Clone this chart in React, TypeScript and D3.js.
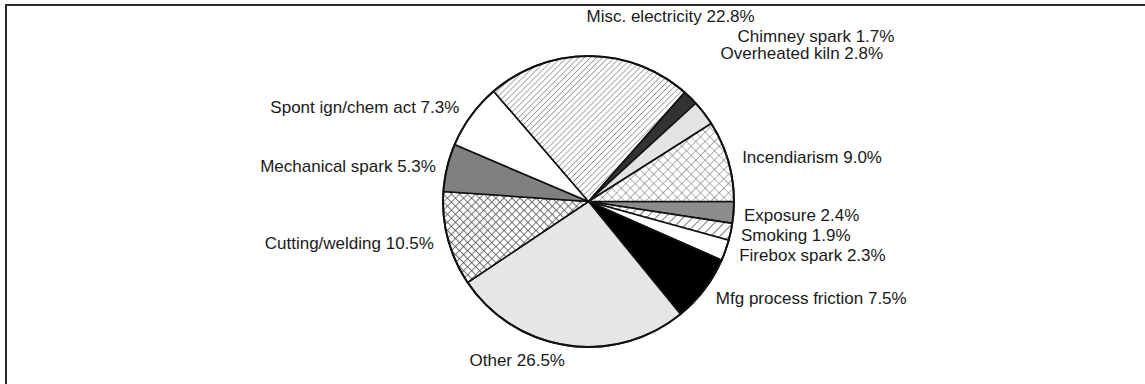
import React from "react";
import * as d3 from "d3";

// causes, clockwise from 3 o'clock
const causes = [
  "Exposure",
  "Smoking",
  "Firebox spark",
  "Mfg process friction",
  "Other",
  "Cutting/welding",
  "Mechanical spark",
  "Spont ign/chem act",
  "Misc. electricity",
  "Chimney spark",
  "Overheated kiln",
  "Incendiarism",
];
const shares = [2.4, 1.9, 2.3, 7.5, 26.5, 10.5, 5.3, 7.3, 22.8, 1.7, 2.8, 9.0];
const fills = [
  "#8c8c8c",
  "url(#hatchWide)",
  "#ffffff",
  "#000000",
  "#e6e6e6",
  "url(#crossBold)",
  "#808080",
  "#ffffff",
  "url(#hatchFine)",
  "#333333",
  "#e3e3e3",
  "url(#crossThin)",
];

// hand moved labels (as in the original chart)
const labelNudge: Record<string, [number, number]> = {
  "Misc. electricity": [-3, -25],
  "Chimney spark": [37, -51],
  "Overheated kiln": [5, -51],
  "Mechanical spark": [3, 2],
  "Exposure": [-4, 1],
  "Smoking": [-4, 0],
};

const W = 1145;
const H = 384;
const cx = 588.5;
const cy = 201.5;
const R = 145.5;
const LR = 160;

const App = () => {
  const data = causes.map((name, i) => ({ name, value: shares[i], fill: fills[i] }));
  const pie = d3
    .pie<any>()
    .value((d) => d.value)
    .sort(null)
    .startAngle(Math.PI / 2)
    .endAngle(Math.PI / 2 + 2 * Math.PI);
  const arc = d3.arc<any>().innerRadius(0).outerRadius(R);
  const arcs = pie(data);

  return (
    <svg width={W} height={H} style={{ position: "absolute", left: 0, top: 0, background: "#fff" }}>
      <defs>
        <pattern id="hatchFine" width="4.2" height="4.2" patternUnits="userSpaceOnUse" patternTransform="rotate(45)">
          <rect width="4.2" height="4.2" fill="#fff" />
          <line x1="0" y1="0" x2="0" y2="4.2" stroke="#555" strokeWidth="1" />
        </pattern>
        <pattern id="hatchWide" width="6.5" height="6.5" patternUnits="userSpaceOnUse" patternTransform="rotate(45)">
          <rect width="6.5" height="6.5" fill="#fff" />
          <line x1="0" y1="0" x2="0" y2="6.5" stroke="#333" strokeWidth="1.3" />
        </pattern>
        <pattern id="crossBold" width="5.7" height="5.7" patternUnits="userSpaceOnUse" patternTransform="rotate(45)">
          <rect width="5.7" height="5.7" fill="#fff" />
          <path d="M0,0 H5.7 M0,0 V5.7" stroke="#444" strokeWidth="1.4" />
        </pattern>
        <pattern id="crossThin" width="6.6" height="6.6" patternUnits="userSpaceOnUse" patternTransform="rotate(45)">
          <rect width="6.6" height="6.6" fill="#fff" />
          <path d="M0,0 H6.6 M0,0 V6.6" stroke="#666" strokeWidth="1" />
        </pattern>
      </defs>
      <rect x={6} y={5} width={W + 20} height={H + 20} fill="none" stroke="#2a2a2a" strokeWidth={2} />
      <g transform={`translate(${cx},${cy})`}>
        {arcs.map((d, i) => (
          <path key={i} d={arc(d) as string} fill={d.data.fill} stroke="#111" strokeWidth={1.6} strokeLinejoin="round" />
        ))}
        <circle r={R} fill="none" stroke="#111" strokeWidth={2} />
        {arcs.map((d, i) => {
          const mid = (d.startAngle + d.endAngle) / 2;
          const nudge = labelNudge[d.data.name] || [0, 0];
          const x = LR * Math.sin(mid) + nudge[0];
          const y = -LR * Math.cos(mid) + nudge[1];
          const right = Math.sin(mid) >= 0;
          return (
            <text
              key={"t" + i}
              x={x}
              y={y}
              dy="0.35em"
              textAnchor={right ? "start" : "end"}
              fontFamily="Liberation Sans, Arial, sans-serif"
              fontSize={17}
              fill="#1a1a1a"
            >
              {`${d.data.name} ${d.data.value.toFixed(1)}%`}
            </text>
          );
        })}
      </g>
    </svg>
  );
};

export default App;
